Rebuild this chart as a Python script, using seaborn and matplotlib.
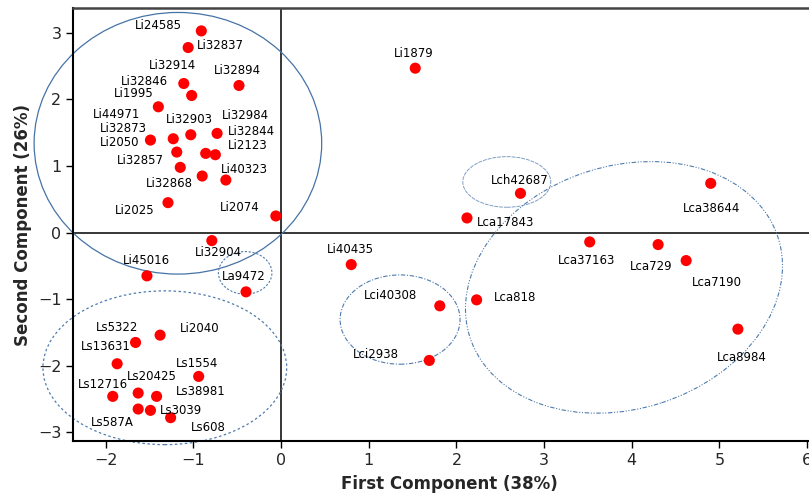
import matplotlib
matplotlib.use("Agg")
import matplotlib.pyplot as plt
import seaborn as sns
import pandas as pd
from matplotlib.patches import Ellipse
from matplotlib.transforms import Affine2D

# ---- data ----
labels = ["Li24585", "Li32837", "Li32894", "Li32914", "Li32846", "Li1995",
          "Li44971", "Li2050", "Li32873", "Li32903", "Li32984", "Li32844",
          "Li2123", "Li32857", "Li32868", "Li40323", "Li2025", "Li2074",
          "Li32904", "Li45016", "La9472", "Ls5322", "Li2040", "Ls13631",
          "Ls1554", "Ls20425", "Ls12716", "Ls38981", "Ls587A", "Ls3039",
          "Ls608", "Li1879", "Lch42687", "Lca17843", "Li40435", "Lci40308",
          "Lca818", "Lci2938", "Lca38644", "Lca37163", "Lca729", "Lca7190",
          "Lca8984"]
pc1 = [-0.91, -1.06, -0.48, -1.11, -1.02, -1.40,
       -1.49, -1.23, -1.19, -1.03, -0.73, -0.86,
       -0.75, -1.15, -0.90, -0.63, -1.29, -0.06,
       -0.79, -1.53, -0.40, -1.66, -1.38, -1.87,
       -0.94, -1.63, -1.92, -1.42, -1.63, -1.49,
       -1.26, 1.53, 2.73, 2.12, 0.80, 1.81,
       2.23, 1.69, 4.90, 3.52, 4.30, 4.62,
       5.21]
pc2 = [3.03, 2.78, 2.21, 2.24, 2.06, 1.89,
       1.39, 1.41, 1.21, 1.47, 1.49, 1.19,
       1.17, 0.98, 0.85, 0.79, 0.45, 0.25,
       -0.12, -0.65, -0.89, -1.65, -1.54, -1.97,
       -2.16, -2.41, -2.46, -2.46, -2.65, -2.67,
       -2.78, 2.47, 0.59, 0.22, -0.48, -1.10,
       -1.01, -1.92, 0.74, -0.14, -0.18, -0.42,
       -1.45]

x_ticks = [-2, -1, 0, 1, 2, 3, 4, 5, 6]
y_ticks = [-3, -2, -1, 0, 1, 2, 3]
x_title = "First Component (38%)"
y_title = "Second Component (26%)"

# label offsets in pixels (dx right, dy down) - layout only
label_offsets = {
    "Li24585": (-43, -5), "Li32837": (32, -2), "Li32894": (-2, -15),
    "Li32914": (-11, -18), "Li32846": (-47, -14), "Li1995": (-25, -13),
    "Li44971": (-34, -26), "Li2050": (-54, 4), "Li32873": (-53, -24),
    "Li32903": (-1, -15), "Li32984": (28, -18), "Li32844": (46, -22),
    "Li2123": (32, -9), "Li32857": (-40, -7), "Li32868": (-33, 7),
    "Li40323": (19, -11), "Li2025": (-33, 8), "Li2074": (-36, -8),
    "Li32904": (7, 12), "Li45016": (-1, -15), "La9472": (-2, -15),
    "Ls5322": (-18, -15), "Li2040": (40, -7), "Ls13631": (-11, -17),
    "Ls1554": (-2, -13), "Ls20425": (14, -17), "Ls12716": (-10, -12),
    "Ls38981": (44, -5), "Ls587A": (-26, 13), "Ls3039": (31, 0),
    "Ls608": (38, 10), "Li1879": (-1, -15), "Lch42687": (-1, -13),
    "Lca17843": (39, 5), "Li40435": (-1, -15), "Lci40308": (-49, -10),
    "Lca818": (38, -2), "Lci2938": (-53, -6), "Lca38644": (1, 25),
    "Lca37163": (-3, 19), "Lca729": (-7, 22), "Lca7190": (31, 22),
    "Lca8984": (4, 28),
}

df = pd.DataFrame({"label": labels, "PC1": pc1, "PC2": pc2})

sns.set_style("white")
plt.rcParams["font.family"] = ["DejaVu Sans"]

fig = plt.figure(figsize=(8.09, 4.98), dpi=100)
ax = fig.add_axes([0.0906, 0.1145, 0.9288, 0.8689])

ax.axhline(0, color="black", lw=1.1, zorder=1)
ax.axvline(0, color="black", lw=1.1, zorder=1)

sns.scatterplot(data=df, x="PC1", y="PC2", color="#ff0000", s=64,
                edgecolor="none", ax=ax, zorder=3)

for lab, x, y in zip(labels, pc1, pc2):
    dx, dy = label_offsets[lab]
    ax.annotate(lab, (x, y), xytext=(dx, -dy), textcoords="offset pixels",
                ha="center", va="center", fontsize=8.5, color="black", zorder=4)

ec = "#4f7cad"
ell = [
    dict(c=(-1.177, 1.342), w=3.28, h=3.93, ls="-", lw=0.9, col="#4673a6"),
    dict(c=(-0.41, -0.605), w=0.61, h=0.64, ls=(0, (2, 1.5)), lw=0.8, col=ec),
    dict(c=(-1.326, -2.03), w=2.78, h=2.31, ls=(0, (2, 2)), lw=0.9, col=ec),
    dict(c=(2.574, 0.761), w=1.003, h=0.76, ls=(0, (4, 1)), lw=0.7, col="#7f9fc4"),
    dict(c=(1.357, -1.306), w=1.368, h=1.341, ls=(0, (4, 1.5, 1, 1.5)), lw=0.8, col=ec),
]
for e in ell:
    ax.add_patch(Ellipse(e["c"], e["w"], e["h"], fill=False, edgecolor=e["col"],
                         linestyle=e["ls"], lw=e["lw"], zorder=2, clip_on=False))

k = 66.6 / 87.7
big = Ellipse((3.911, -0.823 * k), 3.694, 2.769, angle=18, fill=False,
              edgecolor=ec, linestyle=(0, (4, 1.5, 1, 1.5, 1, 1.5)), lw=0.8,
              transform=Affine2D().scale(1, 1 / k) + ax.transData, zorder=2,
              clip_on=False)
ax.add_patch(big)

ax.set_xlim(-2.37, 6.2)
ax.set_ylim(-3.13, 3.37)
ax.set_xticks(x_ticks)
ax.set_yticks(y_ticks)
ax.tick_params(axis="both", which="both", direction="out", length=5, width=1,
               labelsize=11.5, color="black", bottom=True, left=True)
ax.set_xlabel(x_title, fontsize=12, fontweight="bold", labelpad=5)
ax.set_ylabel(y_title, fontsize=12, fontweight="bold", labelpad=4)

for side in ["left", "bottom"]:
    ax.spines[side].set_color("black")
    ax.spines[side].set_linewidth(1.5)
ax.spines["top"].set_color("#444444")
ax.spines["top"].set_linewidth(1.8)
ax.spines["right"].set_visible(False)

fig.savefig("out.png", dpi=100)
